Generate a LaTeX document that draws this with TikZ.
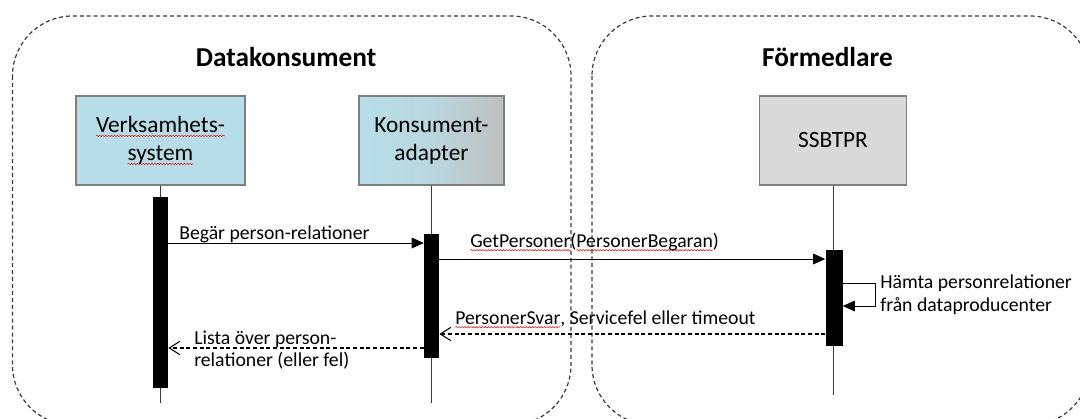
\documentclass[tikz,border=0pt]{standalone}
\usepackage{fontspec}
\setmainfont{Carlito}
\usetikzlibrary{arrows.meta,shapes,calc,decorations.pathmorphing}
\definecolor{boxblue}{HTML}{B7DEE8}
\definecolor{boxgray}{HTML}{D9D9D9}
\definecolor{adaptgray}{HTML}{BFBFBF}
\definecolor{edgegray}{HTML}{7F7F7F}
\definecolor{framegray}{HTML}{3A3A3A}
\newcommand\stavfel[1]{\setbox0\hbox{#1}\rlap{\tikz[baseline=0pt]{\useasboundingbox (0pt,0pt);
  \draw[overlay,red,line width=0.35pt,decorate,decoration={snake,amplitude=0.55pt,segment length=2.2pt}] (0pt,-2.4pt) -- (\the\wd0,-2.4pt);}}\box0}

\begin{document}
\begin{tikzpicture}[x=0.75pt,y=-0.75pt,inner sep=0pt]
\tikzstyle{omrade}=[draw=framegray,line width=0.9pt,dash pattern=on 3pt off 2.2pt,rounded corners=45pt]
\tikzstyle{aktor}=[draw=edgegray,line width=0.9pt,align=center,font=\fontsize{17.5}{21}\selectfont]
\tikzstyle{stapel}=[fill=black,minimum width=11.25pt]
\tikzstyle{livslinje}=[draw=framegray,line width=0.7pt]
\tikzstyle{anrop}=[line width=0.75pt,-{Triangle[length=9pt,width=8pt]}]
\tikzstyle{svar}=[line width=0.8pt,dash pattern=on 3pt off 2pt,-{Straight Barb[length=8pt,width=10pt]}]
\tikzstyle{etikett}=[font=\fontsize{14.8}{17}\selectfont,align=left]
\tikzstyle{rubrik}=[font=\fontsize{20.5}{24}\selectfont\bfseries]
\useasboundingbox (0,0) rectangle (1080,418);
% omraden
\begin{scope}
\clip (0,0) rectangle (1080,418);
\draw[omrade] (12.5,16) rectangle (571,425);
\draw[omrade] (592,16) rectangle (1090,425);
\end{scope}
\node[rubrik,anchor=base] (konsument) at (286,66) {Datakonsument};
\node[rubrik,anchor=base] (formedlare) at (827.5,66) {Förmedlare};
% aktorer
\node[aktor,fill=boxblue,minimum width=126.75pt,minimum height=66.75pt] (verks) at (160.5,140.5) {\stavfel{Verksamhets-}\\\stavfel{system}};
\node[aktor,left color=boxblue,right color=adaptgray,middle color=boxblue!75!adaptgray,minimum width=108.75pt,minimum height=66.75pt] (kons) at (431.5,140.5) {Konsument-\\adapter};
\node[aktor,fill=boxgray,minimum width=110.25pt,minimum height=66.75pt] (ssb) at (833,140.5) {SSBTPR};
\coordinate (slut) at (0,403);
\coordinate (ssbslut) at (0,395);
\draw[livslinje] (verks.south) -- (verks.south |- slut);
\draw[livslinje] (kons.south) -- (kons.south |- slut);
\draw[livslinje] (ssb.south) -- (ssb.south |- ssbslut);
\node[stapel,minimum height=143.25pt] (verksstapel) at (160.5,292.5) {};
\node[stapel,minimum height=93pt] (konsstapel) at (431.5,296) {};
\node[stapel,minimum width=12.75pt,minimum height=72pt] (ssbstapel) at (834,298) {};
% meddelanden
\coordinate (m1) at (0,243);
\coordinate (m2) at (0,259);
\coordinate (s1) at (0,283);
\coordinate (s2) at (875,306);
\coordinate (r1) at (0,334);
\coordinate (r2) at (0,348);
\draw[anrop] (verksstapel.east |- m1) -- (konsstapel.west |- m1);
\draw[anrop] (konsstapel.east |- m2) -- (ssbstapel.west |- m2);
\draw[anrop] (ssbstapel.east |- s1) -| (s2) -- (ssbstapel.east |- s2);
\draw[svar] (ssbstapel.west |- r1) -- (konsstapel.east |- r1);
\draw[svar] (konsstapel.west |- r2) -- (verksstapel.east |- r2);
\node[etikett,anchor=base west] (begar) at (179,239) {Begär person-relationer};
\node[etikett,anchor=base west] (getpers) at (470,247) {\stavfel{GetPersoner}(\stavfel{PersonerBegaran})};
\node[etikett,anchor=west] (hamta) at (880,295) {Hämta personrelationer\\från dataproducenter};
\node[etikett,anchor=base west] (persvar) at (455,324) {\stavfel{PersonerSvar}, Servicefel eller timeout};
\node[etikett,anchor=west] (lista) at (194,350) {Lista över person-\\relationer (eller fel)};
\end{tikzpicture}
\end{document}
